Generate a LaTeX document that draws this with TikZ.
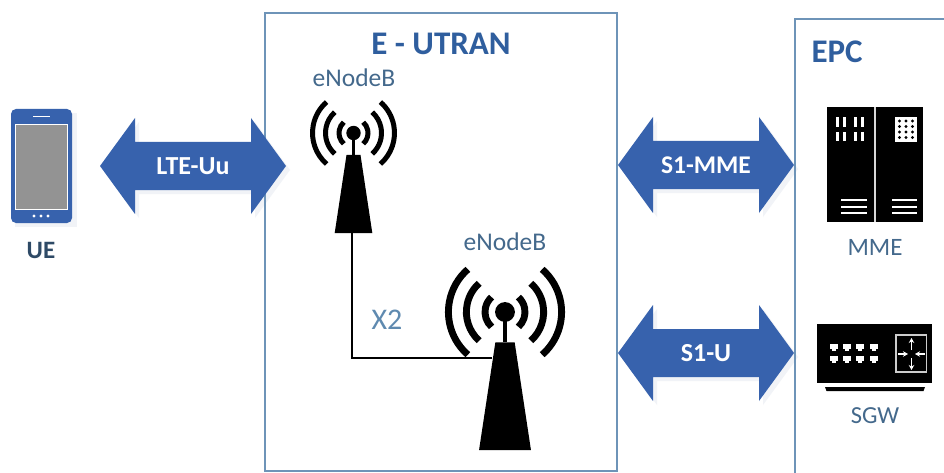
\documentclass[tikz,border=0pt]{standalone}
\usepackage{fontspec}
\setmainfont{Carlito}
\usetikzlibrary{arrows.meta}
\definecolor{frameblue}{HTML}{6E94B8}
\definecolor{arrowblue}{HTML}{3762AD}
\definecolor{titleblue}{HTML}{2F5E9E}
\definecolor{slate}{HTML}{44698C}
\definecolor{xblue}{HTML}{5F8AB0}
\definecolor{darkslate}{HTML}{2E4A66}
\definecolor{softshadow}{HTML}{F1F3F7}
\tikzset{
  x=1pt,y=-1pt,
  framebox/.style={draw=frameblue,line width=1.3pt},
  linklabel/.style={text=white,font=\bfseries\fontsize{#1}{28}\selectfont,inner sep=0pt},
  titletext/.style={text=titleblue,font=\bfseries\fontsize{33}{35}\selectfont},
  nametext/.style={text=slate,font=\fontsize{#1}{27}\selectfont},
  wire/.style={draw=black,line width=2pt},
  whitebar/.style={fill=white,draw=none},
  minitip/.style={draw=white,line width=1.2pt,-{Stealth[length=5pt,width=5.5pt]}},
}
\newcommand{\fatarrow}[4]{% style, centre x, centre y, half length
  \fill[#1] (#2-#4,#3) -- (#2-#4+35,#3-48) -- (#2-#4+35,#3-24) -- (#2+#4-35,#3-24)
    -- (#2+#4-35,#3-48) -- (#2+#4,#3) -- (#2+#4-35,#3+48) -- (#2+#4-35,#3+24)
    -- (#2-#4+35,#3+24) -- (#2-#4+35,#3+48) -- cycle;
}
\newcommand{\radiotower}[4]{% name, x, y, scale
  \begin{scope}[shift={(#2,#3)},scale=#4]
    \fill[black] (0,0) circle (7.2);
    \fill[black] (-1.7,0) rectangle (1.7,22);
    \fill[black] (-7,22) -- (7,22) -- (18.8,100) -- (-18.8,100) -- cycle;
    \foreach \r/\a in {14.5/48,28/48,41/49}{
      \draw[black,line width=#4*5pt] (180-\a:\r) arc[start angle=180-\a,end angle=180+\a,radius=\r];
      \draw[black,line width=#4*5pt] (\a:\r) arc[start angle=\a,end angle=-\a,radius=\r];
    }
    \coordinate (#1base) at (-2,100);
    \coordinate (#1side) at (-9.5,33);
  \end{scope}
}
\begin{document}
\begin{tikzpicture}
\useasboundingbox (0,0) rectangle (944,473);
\fill[white] (0,0) rectangle (944,473);

% soft shadows
\fill[softshadow] (15,113) rectangle (77,227);
\fatarrow{softshadow}{197}{170}{93}
\fatarrow{softshadow}{710}{169}{88}
\fatarrow{softshadow}{710}{357}{88}

% frames
\draw[framebox] (265,13) rectangle (617,471);
\draw[framebox] (944,19) -- (795,19) -- (795,473);
\node[titletext] (utran) at (441,44) {E - UTRAN};
\node[titletext,anchor=west] (epc) at (808,52) {EPC};

% UE
\fill[arrowblue,rounded corners=5pt] (11,109) rectangle (72,223);
\fill[white] (15,124) rectangle (68,210);
\fill[gray!85!white] (16,125) rectangle (67,209);
\fill[white] (33,116) rectangle (50,117.5);
\foreach \x in {34,41,48} \fill[white] (\x,216) circle (1.6);
\node[text=darkslate,font=\bfseries\fontsize{25}{27}\selectfont] (ue) at (41,250) {UE};

% link arrows
\fatarrow{arrowblue}{193}{166}{93}
\fatarrow{arrowblue}{706}{165}{88}
\fatarrow{arrowblue}{706}{353}{88}
\node[linklabel=26] (uu) at (193,166) {LTE-Uu};
\node[linklabel=25.5] (mme1) at (706,165) {S1-MME};
\node[linklabel=26] (s1u) at (706,353) {S1-U};

% eNodeBs
\node[nametext=25.5] (enb1) at (354,78) {eNodeB};
\node[nametext=25.5] (enb2) at (505,242) {eNodeB};
\radiotower{ta}{353.5}{133}{1}
\radiotower{tb}{505}{312}{1.38}
\draw[wire] (tabase) |- (tbside);
\node[text=xblue,font=\fontsize{30}{32}\selectfont] (x2) at (387,320) {X2};

% MME
\fill[black] (827,107) rectangle (923,222);
\fill[white!85!black] (874.3,107) rectangle (876,222);
\foreach \x in {836,843,853.5,861} \foreach \y in {117.5,132}
  \fill[whitebar] (\x,\y) rectangle +(3,9.5);
\fill[white] (895,117.5) rectangle (917,142.5);
\foreach \x in {899.5,906,912.5} \foreach \y in {121,126.5,132,137.5}
  \fill[black] (\x,\y) circle (1.6);
\foreach \x in {841,891.5} \foreach \y in {199,205.5,211.5}
  \fill[whitebar] (\x,\y) rectangle +(25.5,2.2);
\node[nametext=25] (mme) at (875,247) {MME};

% SGW
\fill[black] (817,324) rectangle (932,383);
\fill[black] (825,387) -- (925,387) -- (923.5,391) -- (826.5,391) -- cycle;
\foreach \x in {833.5,846.5,860,873.5} \foreach \y in {347,359}{
  \fill[white] (\x-4,\y-3) rectangle (\x+4,\y+1.5);
  \fill[white] (\x-2,\y+1.5) rectangle (\x+2,\y+3.5);
}
\draw[white!80!black,line width=1.2pt] (896,335) rectangle (926.5,372);
\draw[minitip] (911.5,350) -- (911.5,338);
\draw[minitip] (911.5,358) -- (911.5,370);
\draw[minitip] (898,354) -- (908,354);
\draw[minitip] (925,354) -- (915,354);
\node[nametext=24.5] (sgw) at (875,416) {SGW};
\end{tikzpicture}
\end{document}
